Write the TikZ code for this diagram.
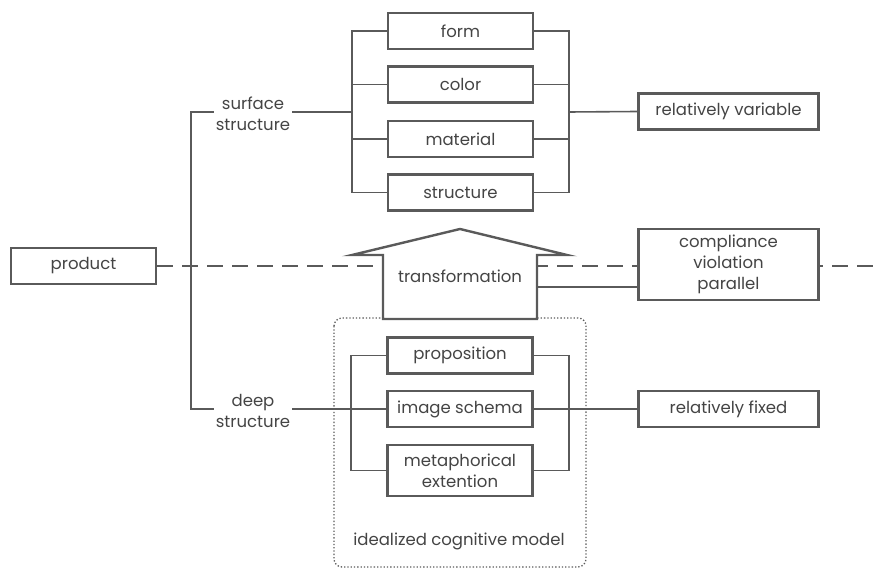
\documentclass[tikz,border=0pt]{standalone}
\usepackage{fontspec}
\setmainfont{Poppins}
\usetikzlibrary{backgrounds}
\definecolor{ink}{HTML}{5A5A5A}
\definecolor{txt}{HTML}{444444}
\tikzset{
  box/.style={draw=ink, line width=2.4pt, fill=white, minimum width=145pt, minimum height=36pt,
              inner sep=0pt, align=center, text=txt, font=\fontsize{16.5}{21}\selectfont},
  widebox/.style={box, minimum width=180pt},
  lbl/.style={inner sep=2pt, align=center, text=txt, font=\fontsize{16.5}{21}\selectfont},
  link/.style={draw=ink, line width=1.6pt},
  dashline/.style={draw=ink, line width=1.5pt, dash pattern=on 16pt off 9pt},
}
\begin{document}
\begin{tikzpicture}[x=1pt, y=-1pt]
\useasboundingbox (0,0) rectangle (881,569);

% idealized cognitive model frame
\draw[ink, line width=1.3pt, dotted, rounded corners=8pt] (334,318) rectangle (586,567);
\node[lbl] (icm) at (459,541) {idealized cognitive model};

% left root
\node[box] (product) at (83.5,266) {product};
\node[lbl] (surface) at (253,114) {surface\\structure};
\node[lbl] (deep) at (253,411) {deep\\structure};

% surface attributes
\node[box] (form) at (460.5,31) {form};
\node[box] (color) at (460.5,84.5) {color};
\node[box] (material) at (460.5,139) {material};
\node[box] (structure) at (460.5,192.5) {structure};
\node[widebox] (variable) at (728.5,111.5) {relatively variable};

% deep attributes
\node[box] (proposition) at (460,355.5) {proposition};
\node[box] (schema) at (460,409) {image schema};
\node[box, minimum height=51pt] (metaphor) at (460,470.5) {metaphorical\\extention};
\node[widebox] (fixed) at (728.5,409) {relatively fixed};

% relations
\node[widebox, minimum height=71pt] (relations) at (728.5,264.5) {compliance\\violation\\parallel};

% transformation arrow
\coordinate (tl) at (383,319);
\coordinate (tr) at (537,319);
\draw[ink, line width=2.4pt, fill=white, line join=miter]
  (tl) -- (383,255) -- (352,255) -- (460,229) -- (567,255) -- (537,255) -- (tr) -- cycle;
\node[lbl] (transformation) at (460,276) {transformation};
\coordinate (tout) at (537,287);

% root tree
\coordinate (root) at (191,112);
\coordinate (rootd) at (191,409);
\draw[link] (surface.west |- root) -- (root) -- (rootd) -- (deep.west |- rootd);

% surface bracket
\coordinate (sl) at (352,112);
\coordinate (sr) at (569,112);
\draw[link] (form.west) -| (sl) |- (structure.west);
\draw[link] (color.west) -| (sl);
\draw[link] (material.west) -| (sl);
\draw[link] (surface.east |- sl) -- (sl);
\draw[link] (form.east) -| (sr) |- (structure.east);
\draw[link] (color.east) -| (sr);
\draw[link] (material.east) -| (sr);
\draw[link] (sr) -- (variable.west);

% deep bracket
\coordinate (dl) at (351,409);
\coordinate (dr) at (569,409);
\draw[link] (proposition.west) -| (dl) |- (metaphor.west);
\draw[link] (proposition.east) -| (dr) |- (metaphor.east);
\draw[link] (deep.east |- dl) -- (schema.west);
\draw[link] (schema.east) -- (fixed.west);

% transformation to relations
\draw[link] (tout) -- (relations.west |- tout);

% dashed divider behind everything
\coordinate (edge) at (881,266);
\begin{scope}[on background layer]
\draw[dashline] (product.east) -- (edge);
\end{scope}
\end{tikzpicture}
\end{document}
